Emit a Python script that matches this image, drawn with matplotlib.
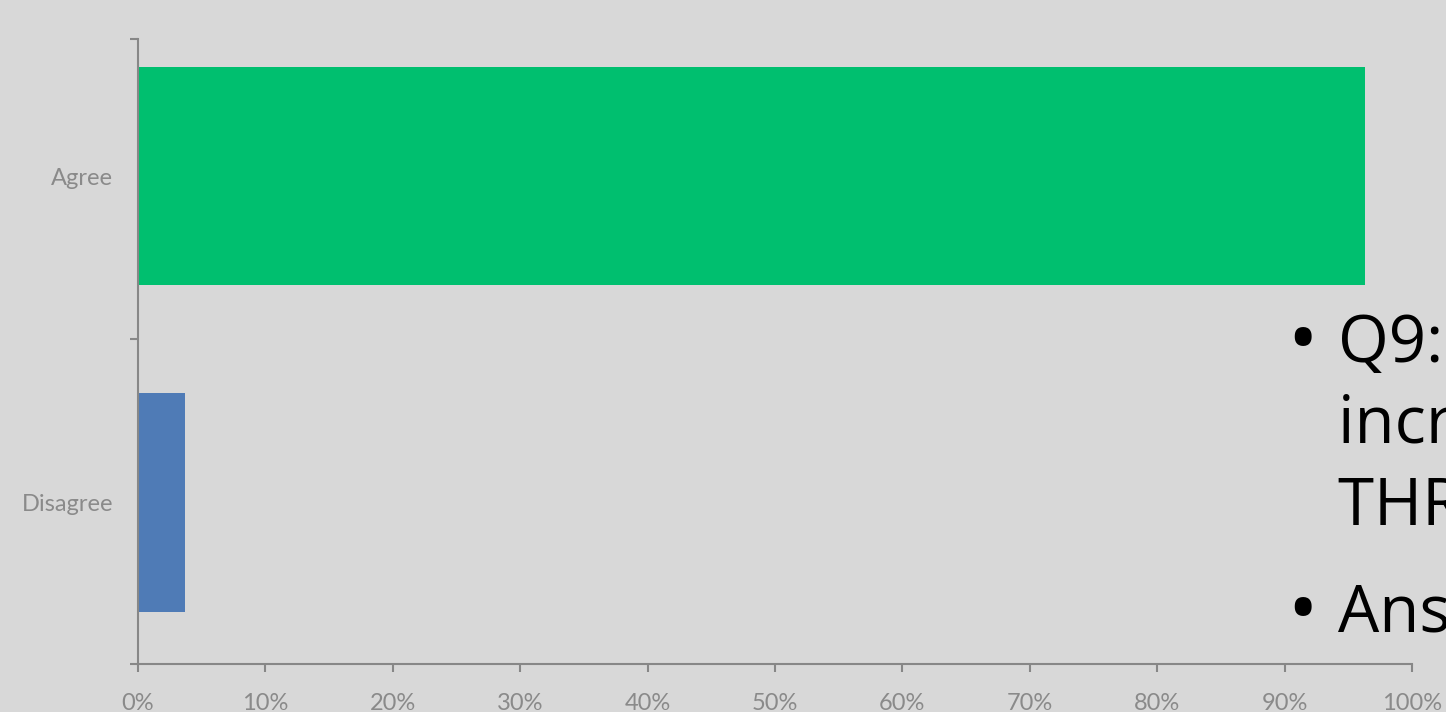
import matplotlib
matplotlib.use('Agg')
import matplotlib.pyplot as plt
import numpy as np

categories = ['Disagree', 'Agree']
shares = [3.7, 96.3]
bar_colors = ['#4f7bb6', '#00bf6f']
x_ticks = [0, 10, 20, 30, 40, 50, 60, 70, 80, 90, 100]
x_tick_labels = ['{}%'.format(t) for t in x_ticks]
bullet_lines = ['Q9: ', 'increased ', 'THROUGH ']
bullet_two = 'Answer'

plt.rcParams['font.family'] = ['Lato', 'DejaVu Sans']

bg = '#d8d8d8'
axis_grey = '#878787'

fig = plt.figure(figsize=(14.46, 7.12), dpi=100, facecolor=bg)
ax = fig.add_axes([138 / 1446, 48 / 712, 1274 / 1446, 625 / 712])
ax.set_facecolor('none')

y = np.arange(len(categories))
ax.barh(y, shares, height=0.67, color=bar_colors)

ax.set_xlim(0, 100)
ax.set_ylim(-0.495, 1.42)

ax.set_xticks(x_ticks)
ax.set_xticklabels(x_tick_labels)
ax.set_yticks(y)
ax.set_yticklabels(categories)
ax.set_yticks([-0.495, 0.5, 1.42], minor=True)

for side in ['top', 'right']:
    ax.spines[side].set_visible(False)
for side in ['left', 'bottom']:
    ax.spines[side].set_color(axis_grey)
    ax.spines[side].set_linewidth(1.5)

ax.tick_params(axis='x', colors=axis_grey, labelcolor='#8a8a8a', length=6,
               width=1.5, labelsize=17, pad=15)
ax.tick_params(axis='y', which='major', length=0, labelcolor='#8a8a8a',
               labelsize=17, pad=18)
ax.tick_params(axis='y', which='minor', length=6, width=1.5, color=axis_grey)

# slide text cut off at the right edge
for yb in [345, 615]:
    fig.text(1302 / 1446, 1 - yb / 712, '\u2022', fontsize=58, color='black',
             va='center', ha='center', family='Open Sans')
for i, line in enumerate(bullet_lines):
    fig.text(1338 / 1446, 1 - (362 + i * 81.5) / 712, line, fontsize=47,
             color='black', va='baseline', ha='left', family='Open Sans')
fig.text(1338 / 1446, 1 - 632 / 712, bullet_two, fontsize=47,
         color='black', va='baseline', ha='left', family='Open Sans')

fig.savefig('out.png', dpi=100, facecolor=bg)
